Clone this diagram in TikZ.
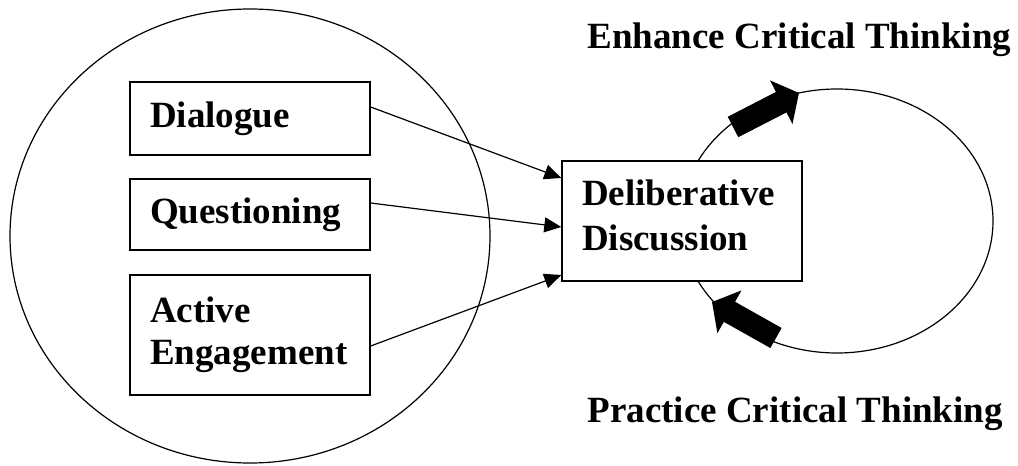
\documentclass[tikz,border=0pt]{standalone}
\usepackage{fontspec}
\setmainfont{Liberation Serif}
\usetikzlibrary{arrows.meta}

\begin{document}
\begin{tikzpicture}[x=0.5pt, y=-0.5pt, line width=0.6pt,
      every node/.append style={font=\fontsize{18.5}{21}\selectfont\bfseries},
      concept/.style={draw, fill=white, line width=0.7pt, text width=100pt,
        inner xsep=10pt, inner ysep=0pt, align=left},
      outcome/.style={anchor=base west, inner sep=0pt},
      feed/.style={-{Triangle[length=8.5pt, width=7.5pt]}},
      loop/.style={line width=11.5pt, -{Triangle[length=10pt, width=24pt]}}]
    \useasboundingbox (0,0) rectangle (1018,466);
    \draw (250,236) ellipse [x radius=240, y radius=227];
    \draw (837,221) ellipse [x radius=156, y radius=132];

    \node (dialogue) [concept, minimum height=36.5pt] at (250,118.5) {Dialogue};
    \node (questioning) [concept, minimum height=35.5pt] at (250,214.5) {Questioning};
    \node (active) [concept, minimum height=60pt] at (250,335) {Active\\Engagement};
    \node (discussion) [concept, minimum height=60pt, text depth=28.5pt,
      font=\fontsize{18.5}{22.5}\selectfont\bfseries] at (682,221) {Deliberative\\Discussion};

    \draw[feed] ([yshift=5.75pt]dialogue.east) -- ([yshift=21.5pt]discussion.west);
    \draw[feed] ([yshift=5.75pt]questioning.east) -- ([yshift=-3pt]discussion.west);
    \draw[feed] ([yshift=-5.5pt]active.east) -- ([yshift=-27pt]discussion.west);

    \node (enhance) [outcome] at (587,48) {Enhance Critical Thinking};
    \node (practice) [outcome] at (587,422) {Practice Critical Thinking};

    \coordinate (enhtail) at (733,127);
    \coordinate (enhtip) at (799,93);
    \coordinate (practail) at (776,338);
    \coordinate (practip) at (712,302);
    \draw[loop] (enhtail) -- (enhtip);
    \draw[loop] (practail) -- (practip);
  \end{tikzpicture}
\end{document}
